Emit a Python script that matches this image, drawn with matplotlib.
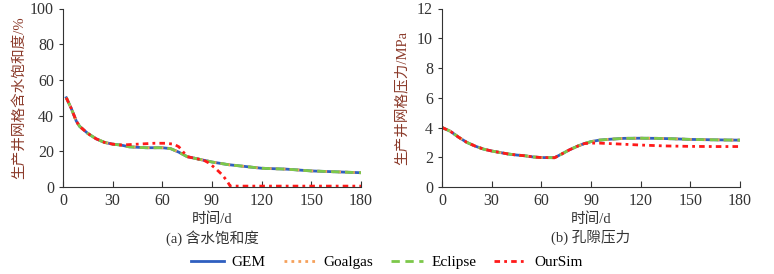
import matplotlib.pyplot as plt
from matplotlib.lines import Line2D

plt.rcParams['font.family'] = ['Liberation Serif', 'Noto Sans CJK SC']
plt.rcParams['axes.unicode_minus'] = False

# (a) water saturation, %
t_sw = [2, 5, 8, 10, 15, 20, 25, 30, 35, 40, 50, 60, 65, 70, 75, 80, 85, 90, 100, 110, 120, 135, 150, 165, 180]
sw_ref = [50, 44, 37, 34, 30, 27, 25, 24, 23.5, 22.5, 22, 22, 21.5, 19.5, 17, 16, 15, 14, 12.5, 11.5, 10.5, 10, 9, 8.5, 8]
t_sw_our = [2, 5, 8, 10, 15, 20, 25, 30, 35, 45, 55, 62, 67, 70, 75, 80, 85, 88, 92, 96, 99, 101, 120, 150, 180]
sw_our = [50, 44, 37, 34, 30, 27, 25, 24, 23.5, 24, 24.5, 24.5, 24, 22.5, 17, 16, 15, 13.5, 10.5, 7, 3.5, 0.5, 0.5, 0.5, 0.5]

# (b) pore pressure, MPa
t_p = [0, 5, 10, 15, 20, 25, 30, 35, 40, 45, 50, 55, 60, 68, 72, 77, 82, 86, 90, 95, 100, 110, 120, 130, 140, 150, 165, 180]
p_ref = [4.0, 3.75, 3.35, 3.0, 2.75, 2.55, 2.42, 2.32, 2.22, 2.15, 2.1, 2.02, 1.98, 1.97, 2.2, 2.5, 2.75, 2.92, 3.05, 3.15, 3.2, 3.27, 3.28, 3.27, 3.24, 3.2, 3.17, 3.15]
t_p_our = [0, 5, 10, 15, 20, 25, 30, 35, 40, 45, 50, 55, 60, 68, 72, 77, 82, 86, 90, 95, 105, 120, 135, 150, 165, 180]
p_our = [4.0, 3.75, 3.35, 3.0, 2.75, 2.55, 2.42, 2.32, 2.22, 2.15, 2.1, 2.02, 1.98, 1.97, 2.2, 2.5, 2.75, 2.92, 2.95, 2.95, 2.9, 2.82, 2.76, 2.73, 2.72, 2.72]

names = ['GEM', 'Goalgas', 'Eclipse', 'OurSim']
colors = ['#2f5fc0', '#f5a15c', '#7cc84a', '#ff1a1a']
styles = ['-', (0, (1, 1.5)), (0, (3, 2)), (0, (2, 1.5, 1, 1.5))]

fig = plt.figure(figsize=(7.74, 2.74), dpi=100)
ax1 = fig.add_axes([63/774, 1-187/274, 298/774, 178.5/274])
ax2 = fig.add_axes([442/774, 1-187/274, 298/774, 178.5/274])


def draw(ax, t, ref, t_our, our):
    for i in range(3):
        ax.plot(t, ref, color=colors[i], linestyle=styles[i], lw=2)
    ax.plot(t_our, our, color=colors[3], linestyle=styles[3], lw=2)
    ax.set_xlim(0, 180)
    ax.set_xticks([0, 30, 60, 90, 120, 150, 180])
    for s in ['top', 'right']:
        ax.spines[s].set_visible(False)
    for s in ['left', 'bottom']:
        ax.spines[s].set_color('#333333')
    ax.tick_params(axis='x', direction='in', length=4, labelsize=11.5, colors='#333333', pad=4)
    ax.tick_params(axis='y', direction='out', length=3, labelsize=11.5, colors='#333333')
    ax.set_xlabel('时间/d', fontsize=10.5, color='#333333', labelpad=3)


draw(ax1, t_sw, sw_ref, t_sw_our, sw_our)
ax1.set_ylim(0, 100)
ax1.set_yticks([0, 20, 40, 60, 80, 100])
ax1.set_ylabel('生产井网格含水饱和度/%', fontsize=10.5, color='#8b3a2a', labelpad=3)
ax1.text(0.5, -0.285, '(a) 含水饱和度', transform=ax1.transAxes, ha='center', va='center', fontsize=10.5, color='#333333')

draw(ax2, t_p, p_ref, t_p_our, p_our)
ax2.set_ylim(0, 12)
ax2.set_yticks([0, 2, 4, 6, 8, 10, 12])
ax2.set_ylabel('生产井网格压力/MPa', fontsize=10.5, color='#8b3a2a', labelpad=6)
ax2.text(0.5, -0.285, '(b) 孔隙压力', transform=ax2.transAxes, ha='center', va='center', fontsize=10.5, color='#333333')

handles = [Line2D([], [], color=colors[i], linestyle=styles[i], lw=2) for i in range(4)]
fig.legend(handles, names, loc='center', bbox_to_anchor=(387/774, 1-262/274), ncol=4, frameon=False,
           fontsize=11, handlelength=2.1, columnspacing=1.2, handletextpad=0.5)

plt.savefig('out.png', dpi=100)
